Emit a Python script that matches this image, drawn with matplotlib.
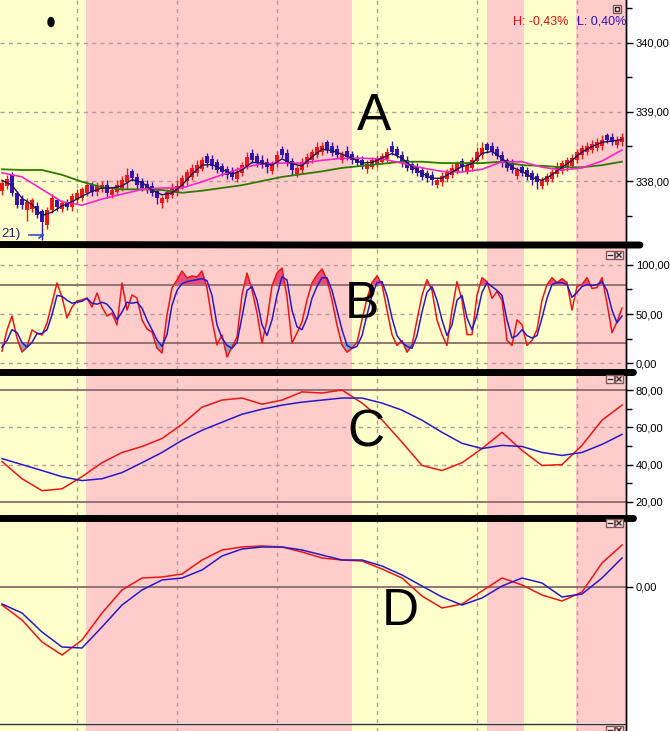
import numpy as np
import matplotlib
matplotlib.use("Agg")
import matplotlib.pyplot as plt
from matplotlib.lines import Line2D
from matplotlib.patches import Rectangle, Ellipse
from matplotlib.ticker import FuncFormatter

# ---------------- data ----------------
close_ = [337.97, 338.03, 337.83, 337.65, 337.66, 337.70, 337.72, 337.51, 337.41, 337.58,
          337.75, 337.63, 337.68, 337.62, 337.78, 337.82, 337.88, 337.94, 337.84, 337.93,
          337.95, 337.82, 337.87, 337.94, 338.01, 338.09, 338.04, 337.94, 337.90, 337.87,
          337.83, 337.75, 337.75, 337.84, 337.90, 337.93, 338.04, 338.13, 338.19, 338.23,
          338.30, 338.26, 338.22, 338.16, 338.13, 338.09, 338.06, 338.13, 338.23, 338.35,
          338.30, 338.26, 338.23, 338.20, 338.25, 338.38, 338.38, 338.28, 338.16, 338.19,
          338.28, 338.35, 338.42, 338.49, 338.51, 338.45, 338.41, 338.38, 338.39, 338.35,
          338.30, 338.26, 338.23, 338.25, 338.30, 338.33, 338.36, 338.42, 338.42, 338.38,
          338.26, 338.19, 338.16, 338.12, 338.06, 338.04, 338.01, 338.01, 338.07, 338.13,
          338.19, 338.25, 338.20, 338.23, 338.30, 338.42, 338.48, 338.45, 338.42, 338.36,
          338.26, 338.19, 338.16, 338.16, 338.12, 338.06, 338.01, 337.99, 338.01, 338.07,
          338.13, 338.22, 338.26, 338.30, 338.33, 338.42, 338.48, 338.51, 338.54, 338.57,
          338.59, 338.59, 338.57, 338.59, 338.64]
open_ = [337.85, 337.93, 338.09, 337.83, 337.74, 337.58, 337.60, 337.64, 337.56, 337.36,
         337.58, 337.72, 337.60, 337.70, 337.62, 337.72, 337.76, 337.82, 337.94, 337.84,
         337.88, 337.95, 337.80, 337.84, 337.90, 337.98, 338.14, 338.06, 338.00, 337.96,
         337.93, 337.86, 337.68, 337.74, 337.80, 337.83, 337.92, 338.00, 338.06, 338.12,
         338.18, 338.36, 338.32, 338.27, 338.22, 338.18, 338.15, 338.03, 338.11, 338.22,
         338.40, 338.36, 338.31, 338.28, 338.15, 338.24, 338.46, 338.40, 338.29, 338.10,
         338.16, 338.24, 338.31, 338.38, 338.42, 338.56, 338.50, 338.46, 338.31, 338.44,
         338.39, 338.34, 338.31, 338.17, 338.21, 338.25, 338.28, 338.32, 338.50, 338.47,
         338.38, 338.30, 338.25, 338.21, 338.16, 338.12, 338.09, 337.94, 337.98, 338.03,
         338.09, 338.14, 338.29, 338.14, 338.19, 338.29, 338.37, 338.53, 338.51, 338.46,
         338.38, 338.30, 338.26, 338.08, 338.21, 338.16, 338.11, 338.08, 337.93, 337.98,
         338.03, 338.10, 338.15, 338.19, 338.22, 338.30, 338.37, 338.42, 338.45, 338.48,
         338.50, 338.66, 338.64, 338.52, 338.56]
# wick lengths (price hundredths) above / below the body
wick_up = [5, 6, 4, 3, 6, 5, 4, 5, 4, 5, 6, 4, 5, 4, 5, 6, 4, 5, 4, 5,
           5, 6, 4, 7, 6, 10, 4, 5, 4, 6, 5, 4, 4, 5, 7, 9, 5, 4, 6, 7,
           5, 4, 6, 5, 4, 4, 6, 7, 5, 7, 6, 4, 6, 5, 4, 6, 5, 7, 5, 4,
           5, 6, 5, 7, 5, 4, 6, 6, 5, 7, 5, 4, 5, 6, 5, 4, 5, 6, 8, 4,
           5, 6, 4, 5, 4, 4, 5, 4, 6, 5, 6, 4, 5, 4, 5, 7, 8, 4, 5, 4,
           5, 4, 6, 5, 4, 4, 5, 4, 5, 4, 5, 6, 4, 5, 6, 5, 4, 5, 6, 5,
           7, 4, 5, 6, 5]
wick_dn = [5, 4, 5, 4, 7, 16, 5, 4, 27, 5, 4, 6, 5, 4, 5, 4, 5, 4, 6, 5,
           4, 6, 5, 4, 5, 10, 4, 6, 5, 4, 5, 8, 7, 5, 4, 5, 4, 5, 4, 5,
           4, 6, 5, 4, 5, 6, 4, 5, 4, 5, 4, 5, 4, 8, 5, 4, 5, 6, 7, 4,
           5, 4, 5, 4, 5, 4, 5, 4, 5, 4, 5, 4, 6, 5, 4, 5, 4, 5, 4, 5,
           6, 5, 4, 5, 4, 5, 6, 4, 5, 4, 5, 4, 5, 4, 5, 4, 5, 4, 5, 4,
           6, 5, 4, 5, 4, 5, 7, 10, 5, 4, 5, 4, 5, 4, 5, 4, 5, 4, 5, 4,
           5, 4, 5, 4, 5]
# moving averages
ma_short = [338.01, 337.94, 337.75, 337.66, 337.50, 337.55, 337.64, 337.70, 337.78, 337.85,
            337.90, 337.90, 337.93, 338.02, 337.98, 337.87, 337.80, 337.83, 337.94, 338.10,
            338.23, 338.24, 338.17, 338.10, 338.16, 338.27, 338.26, 338.23, 338.32, 338.25,
            338.22, 338.35, 338.46, 338.44, 338.39, 338.33, 338.26, 338.27, 338.33, 338.40,
            338.33, 338.21, 338.11, 338.04, 338.04, 338.13, 338.21, 338.25, 338.40, 338.43,
            338.33, 338.20, 338.14, 338.05, 338.01, 338.09, 338.20, 338.30, 338.42, 338.50,
            338.56, 338.58, 338.60]
ma_mid = [338.12, 338.06, 337.88, 337.70, 337.65, 337.74, 337.81, 337.88, 337.90, 337.90,
          337.99, 338.09, 338.19, 338.25, 338.26, 338.26, 338.30, 338.33, 338.33, 338.32,
          338.26, 338.19, 338.14, 338.13, 338.17, 338.28, 338.28, 338.20, 338.16, 338.19,
          338.29, 338.45]
ma_long = [338.17, 338.16, 338.16, 338.09, 337.99, 337.91, 337.88, 337.88, 337.87, 337.83,
           337.86, 337.90, 337.94, 338.00, 338.06, 338.10, 338.14, 338.19, 338.22, 338.25,
           338.28, 338.28, 338.26, 338.26, 338.26, 338.28, 338.23, 338.22, 338.20, 338.20,
           338.23, 338.28]
# stochastic (panel B)
stoch_k = [12.2, 33.7, 48, 25.5, 11.2, 16.3, 33.7, 30.6, 28.6, 40.8,
           61.2, 81.6, 67.3, 46, 57.1, 63.3, 64.3, 66.3, 57.1, 71.4,
           57.1, 48, 51, 38.8, 81.6, 54, 69.4, 66.3, 43.9, 34.7,
           31.6, 15.3, 10.2, 49, 76.5, 84.7, 93.9, 86.7, 88.8, 87.8,
           93.9, 76.5, 43.9, 18.4, 28.6, 6.1, 16.3, 26.5, 69.4, 91.8,
           74.5, 51, 20.4, 43.9, 78.6, 91.8, 96.9, 67.3, 20.4, 30.6,
           41.8, 64.3, 81.6, 89.8, 96, 84.7, 64.3, 38.8, 18.4, 11,
           15, 21, 44, 66, 82, 89, 80, 54, 29, 18,
           23, 11, 18, 44, 69, 85, 74, 44, 29, 18,
           54, 83, 64, 29, 29, 69, 87, 83, 66, 73,
           64, 23, 18, 44, 39, 18, 23, 34, 64, 80,
           87, 82, 86, 82, 54, 78, 80, 87, 76, 77,
           87, 61, 31, 42, 56]
stoch_d = [16, 23, 34, 31, 21, 16, 21, 30, 30, 34,
           49, 69, 68, 64, 61, 62, 63, 66, 61, 60,
           62, 60, 54, 44, 52, 62, 61, 62, 56, 44,
           34, 23.5, 17, 29, 59, 74, 81, 83, 84, 85,
           86, 84, 69, 39, 25.5, 18, 15, 21, 47, 74,
           78, 64, 39, 28, 44, 69, 88, 84.7, 54, 37,
           34, 46, 66, 78, 87, 87, 74, 54, 34, 18,
           15, 17, 28, 49, 69, 82, 83, 69, 46, 28,
           21, 17, 15, 28, 52, 72, 78, 64, 44, 28,
           39, 64, 69, 46, 34, 49, 72, 82, 78, 74,
           69, 44, 25.5, 28, 34, 28, 25.5, 28, 46, 66,
           80, 82, 82, 80, 67, 72, 78, 80, 79, 80,
           83, 74, 54, 41, 48]
# panel C
c_red = [41.6, 32.4, 26, 27, 33.5, 41, 46.5, 49.7, 54, 61.6, 70.8, 74.6, 75.7, 72.4, 74.6, 79,
         78.4, 80, 73, 64, 52, 39.5, 36.8, 41, 48.6, 57.3, 47.6, 39.5, 40, 50.3, 63.8, 71.9]
c_blue = [43.2, 40, 36.8, 33.5, 31.4, 32.4, 35.7, 41, 46.5, 53, 58.4, 62.7, 67, 69.7, 71.9, 73.5,
          74.6, 75.7, 75.7, 73, 69.2, 63.8, 57.3, 51.4, 48.6, 50.3, 49.7, 46.5, 44.9, 46.5, 50.8, 56.2]
# panel D
d_red = [-0.18, -0.33, -0.55, -0.68, -0.53, -0.26, -0.03, 0.09, 0.10, 0.13, 0.27, 0.37, 0.40, 0.41, 0.40, 0.35,
         0.29, 0.27, 0.26, 0.18, 0.09, -0.09, -0.21, -0.17, -0.04, 0.09, 0.02, -0.08, -0.14, -0.05, 0.24, 0.42]
d_blue = [-0.17, -0.26, -0.45, -0.60, -0.61, -0.40, -0.18, -0.03, 0.07, 0.09, 0.17, 0.31, 0.38, 0.40, 0.40, 0.37,
          0.32, 0.27, 0.27, 0.21, 0.12, 0.01, -0.10, -0.18, -0.11, 0.01, 0.09, 0.04, -0.10, -0.07, 0.09, 0.29]
# background regimes (bar positions)
band_edges = [-0.4, 16.8, 70.0, 97.0, 104.4, 114.8, 124.8]
band_colors = ['#FFFFCC', '#FFCCCC', '#FFFFCC', '#FFCCCC', '#FFFFCC', '#FFCCCC']
vgrid_bars = [15, 35, 55, 75, 95, 115]

n = len(close_)
idx = np.arange(n)
idx2 = np.arange(0, n, 2)
idx4 = np.arange(0, n, 4)

# ---------------- figure ----------------
plt.rcParams['font.family'] = ['Liberation Sans', 'DejaVu Sans']
W, H = 670, 731
fig = plt.figure(figsize=(W / 100, H / 100), dpi=100)
fig.patch.set_facecolor('white')
AXW = 626

GRID = '#B89C9C'
SOLID = '#8C6A6A'
RED = '#F01414'
BLUE = '#2A18C8'


def fmt(v, pos=None):
    return f"{v:.2f}".replace('.', ',')


def panel(top, bottom, ylim, major, minor, hdash=(), hsolid=()):
    ax = fig.add_axes([0, 1 - bottom / H, AXW / W, (bottom - top) / H])
    ax.set_xlim(band_edges[0], band_edges[-1])
    ax.set_ylim(*ylim)
    for a, b, col in zip(band_edges[:-1], band_edges[1:], band_colors):
        ax.axvspan(a, b, color=col, lw=0, zorder=0)
    for g in vgrid_bars:
        ax.axvline(g, color=GRID, lw=1, ls=(0, (3, 3)), zorder=1)
    for h in hdash:
        ax.axhline(h, color=GRID, lw=1, ls=(0, (3, 3)), zorder=1)
    for h in hsolid:
        ax.axhline(h, color=SOLID, lw=1.3, zorder=1)
    for s in ['left', 'top', 'bottom']:
        ax.spines[s].set_visible(False)
    ax.spines['right'].set_color('black')
    ax.spines['right'].set_linewidth(1)
    ax.yaxis.tick_right()
    ax.set_yticks(major)
    ax.set_yticks(minor, minor=True)
    ax.yaxis.set_major_formatter(FuncFormatter(fmt))
    ax.tick_params(axis='y', which='major', direction='out', length=5, width=1,
                   pad=2, labelsize=8, colors='black')
    ax.tick_params(axis='y', which='minor', direction='out', length=4, width=1)
    ax.set_xticks([])
    return ax


# Panel A: candles
axA = panel(0, 246, (337.06, 340.62), [338, 339, 340], [337.5, 338.5, 339.5, 340.5],
            hdash=[338, 339, 340])
o = np.array(open_)
c = np.array(close_)
top = np.maximum(o, c)
bot = np.minimum(o, c)
hi = top + np.array(wick_up) / 100
lo = bot - np.array(wick_dn) / 100
cols = np.where(c >= o, '#EE1818', '#3414B4')
axA.vlines(idx, lo, hi, colors=cols, lw=1, zorder=3)
axA.bar(idx, np.maximum(top - bot, 0.015), bottom=bot, width=0.78, color=cols, lw=0, zorder=4)
axA.plot(idx4, ma_long, color='#2E7A00', lw=1.3, zorder=5)
axA.plot(idx4, ma_mid, color='#FF22C8', lw=1.2, zorder=5)
axA.plot(idx2, ma_short, color='#1C1460', lw=1.0, zorder=6)

# Panel B: stochastic
axB = panel(248, 370, (-7.1, 117.3), [0, 50, 100], [25, 75], hdash=[0, 50, 100], hsolid=[20, 80])
k = np.array(stoch_k, dtype=float)
axB.fill_between(idx, k, 80, where=k > 80, interpolate=True, color='#E8507C', lw=0, zorder=2)
axB.fill_between(idx, k, 20, where=k < 20, interpolate=True, color='#8CA8B8', lw=0, zorder=2)
axB.plot(idx, stoch_k, color=RED, lw=1.1, zorder=4)
axB.plot(idx, stoch_d, color=BLUE, lw=1.1, zorder=5)

# Panel C
axC = panel(374, 516, (12.4, 88.6), [20, 40, 60, 80], [30, 50, 70], hdash=[40, 60], hsolid=[20, 80])
axC.plot(idx4, c_red, color=RED, lw=1.1, zorder=4)
axC.plot(idx4, c_blue, color=BLUE, lw=1.1, zorder=5)

# Panel D
axD = panel(519, 723, (-1.36, 0.68), [0], [], hsolid=[0])
axD.plot(idx4, d_red, color=RED, lw=1.1, zorder=4)
axD.plot(idx4, d_blue, color=BLUE, lw=1.1, zorder=5)

# Panel E (partially visible)
axE = panel(725, 770, (-36, 9), [0], [])


# ---------------- annotations ----------------
def P(x, y):
    return (x / W, 1 - y / H)


def fline(xs, ys, **kw):
    fig.add_artist(Line2D([x / W for x in xs], [1 - y / H for y in ys],
                          transform=fig.transFigure, **kw))


# panel borders
fline([0, AXW], [724, 724], color='#303030', lw=1)
fline([AXW, AXW], [0, H], color='black', lw=1)

# thick hand-drawn separators
fline([0, 320, 640], [244.5, 245, 245], color='black', lw=5, solid_capstyle='round')
fline([0, 633], [372, 372], color='black', lw=5, solid_capstyle='round')
fline([0, 633], [518, 518], color='black', lw=5, solid_capstyle='round')

# big letters
for t, x, y in [('A', 374, 130), ('B', 362, 318), ('C', 366, 447), ('D', 400, 625)]:
    fig.text(*P(x, y), t, fontsize=37, ha='center', va='baseline', color='black')

# dot
fig.add_artist(Ellipse(P(51, 22), 6 / W, 9 / H, transform=fig.transFigure, color='black'))

# header
fig.text(*P(513, 22), 'H: -0,43%', fontsize=9, color='#E01010', ha='left', va='center')
fig.text(*P(577, 22), 'L: 0,40%', fontsize=9, color='#3010C0', ha='left', va='center')

# legend fragment
fig.text(*P(1, 237), '21)', fontsize=9.5, color='#20207A', ha='left', va='baseline')
fline([29, 43], [235, 235], color='#3050D0', lw=1.2)
fline([43, 39], [235, 238], color='#3050D0', lw=1.2)


# window buttons
def button(x, y, kind):
    fig.add_artist(Rectangle(P(x, y + 8), 8 / W, 8 / H, transform=fig.transFigure,
                             facecolor='#FFE8E8', edgecolor='#805858', lw=1, zorder=10))
    if kind == 'min':
        fline([x + 2, x + 6], [y + 4, y + 4], color='#402020', lw=1, zorder=11)
    elif kind == 'x':
        fline([x + 2, x + 6], [y + 2, y + 6], color='#402020', lw=1, zorder=11)
        fline([x + 2, x + 6], [y + 6, y + 2], color='#402020', lw=1, zorder=11)
    else:
        fig.add_artist(Rectangle(P(x + 2, y + 6), 4 / W, 4 / H, transform=fig.transFigure,
                                 facecolor='none', edgecolor='#402020', lw=1, zorder=11))


button(613, 5, 'max')
for yb in [251, 375, 519, 726]:
    button(606, yb, 'min')
    button(615, yb, 'x')

fig.savefig('out.png', dpi=100, facecolor='white')
